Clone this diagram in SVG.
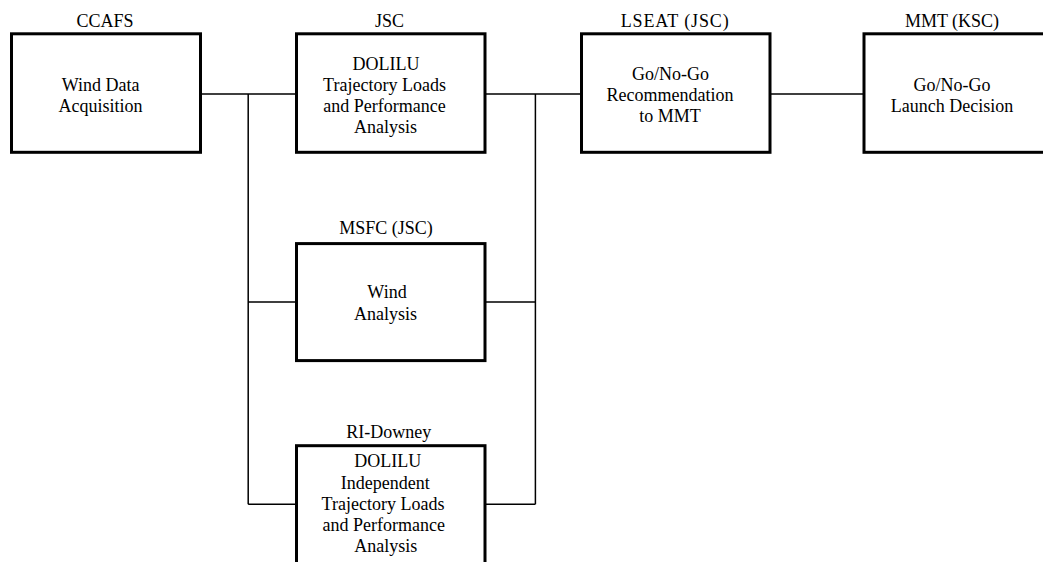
<svg xmlns="http://www.w3.org/2000/svg" width="1043" height="562" viewBox="0 0 1043 562">
<style>
text{font-family:"Liberation Serif","Times New Roman",serif;font-size:18px;fill:#000;text-anchor:middle}
.box{fill:#fff;stroke:#000;stroke-width:3}
.conn{stroke:#000;stroke-width:1.5;fill:none}
</style>
<rect width="1043" height="562" fill="#fff"/>
<g id="connectors">
<path class="conn" d="M200.5 94H296.5M485 94H581.5M770 94H864"/>
<path class="conn" d="M248.2 94V504.3M248.2 302H296.5M248.2 504.3H296.5"/>
<path class="conn" d="M535.4 94V504.3M485 302H535.4M485 504.3H535.4"/>
</g>
<g id="ccafs">
<text x="105" y="27">CCAFS</text>
<rect class="box" x="11.5" y="33.8" width="189" height="118.5"/>
<text x="100.5" y="90.7">Wind Data</text>
<text x="100.5" y="111.7">Acquisition</text>
</g>
<g id="jsc">
<text x="389.5" y="27">JSC</text>
<rect class="box" x="296.5" y="33.8" width="188.5" height="118.5"/>
<text x="386" y="70">DOLILU</text>
<text x="384.5" y="91">Trajectory Loads</text>
<text x="384.5" y="112">and Performance</text>
<text x="385.5" y="133">Analysis</text>
</g>
<g id="lseat">
<text x="674.7" y="27" textLength="108" lengthAdjust="spacing">LSEAT (JSC)</text>
<rect class="box" x="581.5" y="33.8" width="188.5" height="118.5"/>
<text x="670.5" y="80">Go/No-Go</text>
<text x="670" y="101">Recommendation</text>
<text x="670" y="122">to MMT</text>
</g>
<g id="mmt">
<text x="952" y="27">MMT (KSC)</text>
<rect class="box" x="864" y="33.8" width="189" height="118.5"/>
<text x="952" y="91">Go/No-Go</text>
<text x="952" y="112">Launch Decision</text>
</g>
<g id="msfc">
<text x="386" y="234.3">MSFC (JSC)</text>
<rect class="box" x="296.5" y="243.6" width="188.5" height="117"/>
<text x="387" y="298.3">Wind</text>
<text x="385.5" y="320">Analysis</text>
</g>
<g id="ri-downey">
<text x="388.7" y="438.3">RI-Downey</text>
<rect class="box" x="296.5" y="445.7" width="188.5" height="118.5"/>
<text x="387.8" y="467">DOLILU</text>
<text x="385.3" y="488.5">Independent</text>
<text x="383" y="509.5">Trajectory Loads</text>
<text x="383.7" y="530.5">and Performance</text>
<text x="385.7" y="551.5">Analysis</text>
</g>
</svg>
